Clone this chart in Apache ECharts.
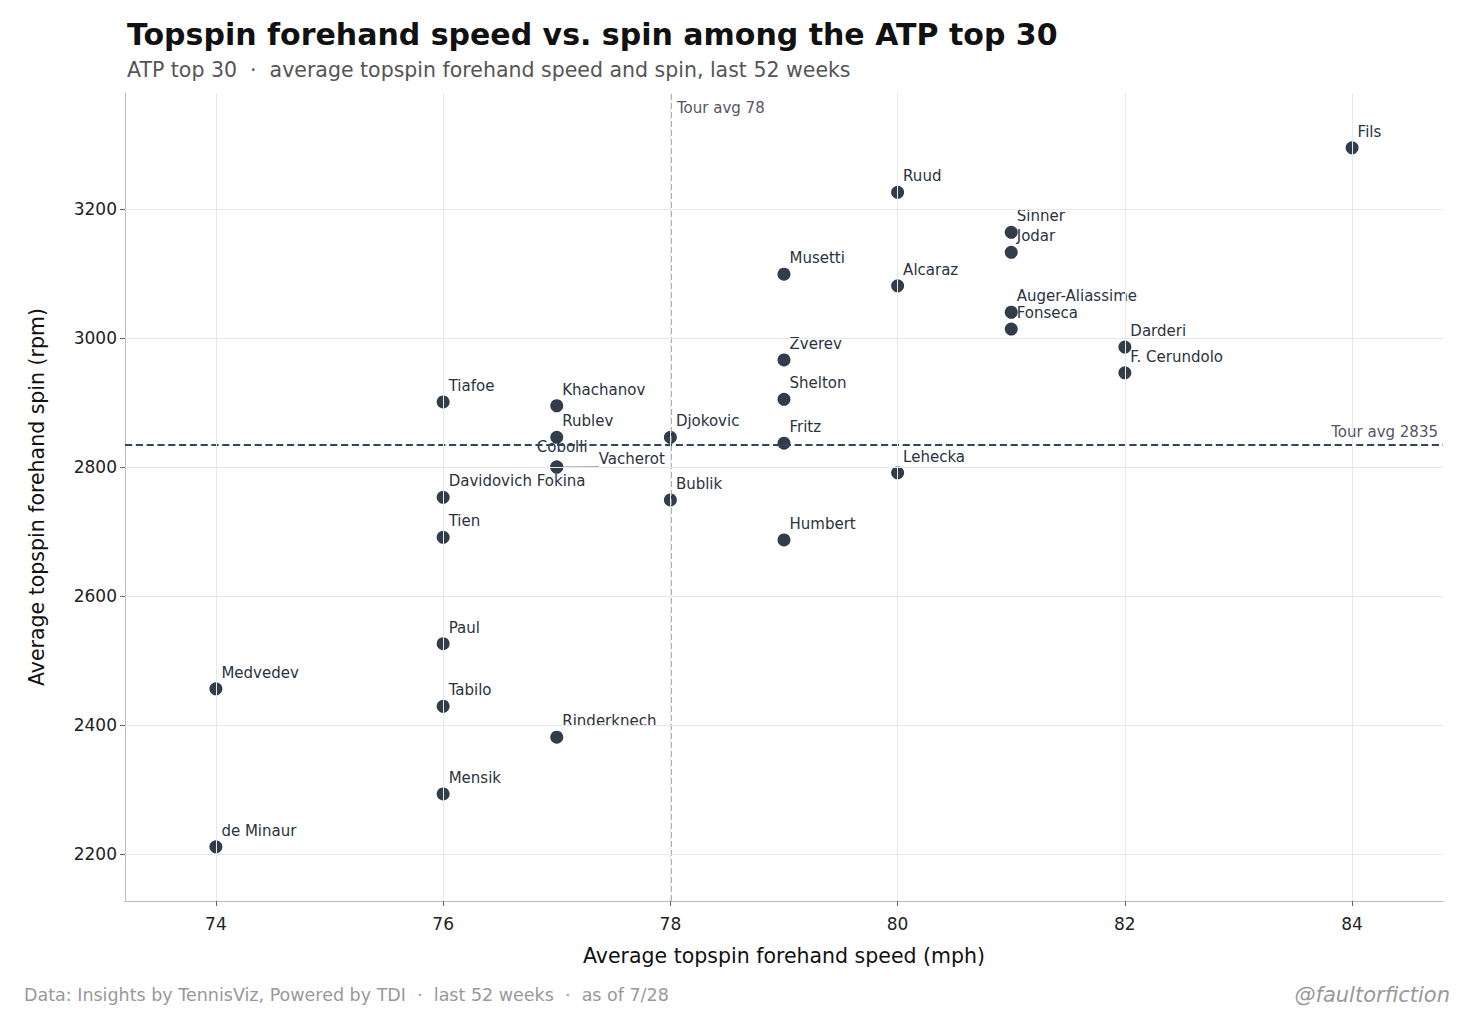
<!DOCTYPE html>
<html><head><meta charset="utf-8">
<script src="https://cdn.jsdelivr.net/npm/echarts@6/dist/echarts.min.js"></script>
<style>html,body{margin:0;padding:0;background:#fff}#c{width:1480px;height:1032px}</style>
</head><body><div id="c"></div>
<script>
var players = ['Fils','Ruud','Sinner','Jodar','Musetti','Alcaraz','Auger-Aliassime','Fonseca','Darderi','F. Cerundolo',
  'Zverev','Shelton','Tiafoe','Khachanov','Rublev','Djokovic','Fritz','Cobolli','Vacherot','Lehecka',
  'Davidovich Fokina','Bublik','Tien','Humbert','Paul','Medvedev','Tabilo','Rinderknech','Mensik','de Minaur'];
var speed = [84,80,81,81,79,80,81,81,82,82,79,79,76,77,77,78,79,77,77,80,76,78,76,79,76,74,76,77,76,74];
var spin = [3295,3226,3164,3133,3099,3081,3040,3014,2986,2946,2966,2905,2901,2895,2846,2846,2837,2800,2800,2791,
  2753,2749,2691,2687,2526,2456,2429,2381,2293,2211];
var xTicks = [74,76,78,80,82,84];
var yTicks = [2200,2400,2600,2800,3000,3200];
var tourAvgSpeed = 78, tourAvgSpin = 2835;

var labelOffsets = { 'Cobolli': [-20, -20], 'Vacherot': [42, -8] };

var data = players.map(function(n, i) {
  var item = { name: n, value: [speed[i], spin[i]] };
  if (labelOffsets[n]) {
    item.label = { position: 'inside', offset: labelOffsets[n] };
    item.labelLine = { show: true };
  }
  return item;
});

var chart = echarts.init(document.getElementById('c'), null, { renderer: 'svg' });
var font = 'DejaVu Sans';
chart.setOption({
  animation: false,
  textStyle: { fontFamily: font },
  title: {
    text: 'Topspin forehand speed vs. spin among the ATP top 30',
    subtext: 'ATP top 30  ·  average topspin forehand speed and spin, last 52 weeks',
    left: 122, top: 14, itemGap: 10,
    textStyle: { fontSize: 30, fontWeight: 'bold', color: '#111', fontFamily: font },
    subtextStyle: { fontSize: 20.5, color: '#555', fontFamily: font }
  },
  graphic: [
    { type: 'text', left: 24, top: 986, style: { text: 'Data: Insights by TennisViz, Powered by TDI  ·  last 52 weeks  ·  as of 7/28', fill: '#999', fontSize: 17.5, fontFamily: font } },
    { type: 'text', right: 30, top: 984, style: { text: '@faultorfiction', fill: '#999', fontSize: 21, fontStyle: 'italic', fontFamily: font } },
    { type: 'text', left: 677, top: 100, style: { text: 'Tour avg 78', fill: '#556', fontSize: 15, fontFamily: font } }
  ],
  grid: { left: 125, right: 37, top: 93, bottom: 131 },
  xAxis: {
    type: 'value', min: 73.2, max: 84.8,
    name: 'Average topspin forehand speed (mph)', nameLocation: 'middle', nameGap: 44,
    nameTextStyle: { fontSize: 20.5, color: '#111' },
    axisLine: { lineStyle: { color: '#bbb' } },
    axisTick: { show: true, lineStyle: { color: '#666' }, customValues: xTicks },
    axisLabel: { fontSize: 17, color: '#222', margin: 14, customValues: xTicks },
    splitLine: { show: false }
  },
  yAxis: {
    type: 'value', min: 2127, max: 3380,
    name: 'Average topspin forehand spin (rpm)', nameLocation: 'middle', nameGap: 78,
    nameTextStyle: { fontSize: 20.5, color: '#111' },
    axisLine: { show: true, lineStyle: { color: '#bbb' } },
    axisTick: { show: true, lineStyle: { color: '#666' }, customValues: yTicks },
    axisLabel: { fontSize: 17, color: '#222', customValues: yTicks, formatter: function(v){ return String(v); } },
    splitLine: { show: false }
  },
  series: [{
    type: 'scatter',
    data: data,
    symbolSize: 13,
    itemStyle: { color: '#323d4b', opacity: 1 },
    label: { show: true, formatter: '{b}', position: 'right', offset: [-6, -16], color: '#2a3340', fontSize: 15, align: 'left' },
    labelLine: { lineStyle: { color: '#aaa', width: 1 } },
    markLine: {
      silent: true, symbol: 'none',
      data: [
        { xAxis: tourAvgSpeed, lineStyle: { color: '#8a9e9c', type: 'dashed', width: 1.5 }, label: { show: false } },
        { yAxis: tourAvgSpin, lineStyle: { color: '#34465a', type: 'dashed', width: 1.8 },
          label: { formatter: 'Tour avg 2835', position: 'insideEndTop', color: '#556', fontSize: 15 } }
      ]
    },
    z: 3
  }, {
    type: 'line', data: [],
    markLine: {
      silent: true, symbol: 'none',
      data: yTicks.map(function(v){ return { yAxis: v }; })
        .concat(xTicks.map(function(v){ return { xAxis: v }; })),
      lineStyle: { color: '#e8e8e8', type: 'solid', width: 1 }, label: { show: false }
    }
  }]
});
</script></body></html>
